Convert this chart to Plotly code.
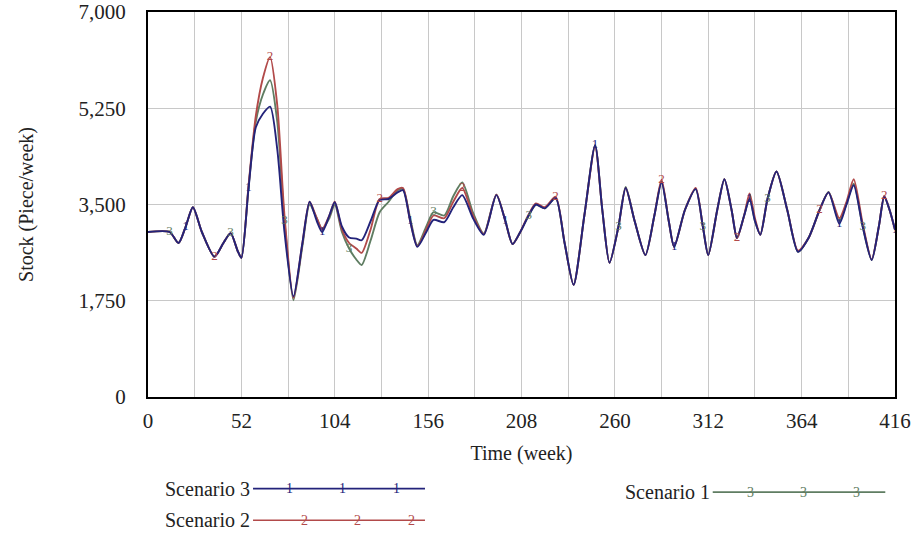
import plotly.graph_objects as go

weeks = [0, 12, 17, 21, 25, 30, 37, 42, 46, 50,
         52, 56, 60, 64, 68, 72, 76, 81, 86, 90,
         94, 97, 101, 104, 108, 112, 116, 119, 124, 129,
         134, 139, 142, 146, 150, 155, 159, 165, 170, 175,
         181, 187, 194, 199, 203, 207, 212, 216, 221, 227,
         232, 237, 243, 249, 253, 257, 262, 266, 271, 277,
         282, 286, 290, 293, 299, 305, 309, 312, 317, 321,
         325, 328, 332, 335, 338, 341, 345, 350, 356, 362,
         368, 374, 379, 385, 389, 393, 398, 403, 407, 410,
         413, 416]

scenario3 = [3000, 3000, 2800, 3100, 3450, 3000, 2550, 2800, 2980, 2650,
             2530, 3800, 4900, 5150, 5280, 4500, 3000, 1830, 2800, 3550,
             3200, 3000, 3300, 3540, 3100, 2900, 2880, 2850, 3200, 3580,
             3600, 3720, 3760, 3200, 2730, 3000, 3220, 3180, 3450, 3670,
             3250, 2950, 3670, 3200, 2780, 2980, 3300, 3500, 3430, 3620,
             2800, 2040, 3300, 4580, 3400, 2440, 3100, 3800, 3200, 2580,
             3300, 3900, 3200, 2730, 3400, 3780, 3100, 2580, 3400, 3960,
             3400, 2890, 3300, 3600, 3200, 2950, 3600, 4100, 3400, 2640,
             2900, 3400, 3720, 3150, 3500, 3850, 3100, 2490, 3100, 3640,
             3400, 3040]

scenario2 = [3000, 3000, 2800, 3100, 3450, 3000, 2550, 2800, 2980, 2650,
             2530, 3850, 5100, 5800, 6180, 5300, 3300, 1800, 2800, 3550,
             3250, 3050, 3300, 3550, 3050, 2800, 2700, 2620, 3050, 3600,
             3620, 3780, 3800, 3200, 2740, 3050, 3300, 3250, 3550, 3800,
             3300, 2960, 3680, 3200, 2780, 2980, 3320, 3520, 3450, 3640,
             2800, 2040, 3300, 4560, 3400, 2440, 3100, 3800, 3200, 2580,
             3300, 3950, 3200, 2730, 3400, 3800, 3100, 2580, 3400, 3960,
             3400, 2890, 3300, 3700, 3250, 2950, 3600, 4100, 3400, 2660,
             2900, 3400, 3720, 3250, 3550, 3960, 3150, 2500, 3100, 3660,
             3400, 3040]

scenario1 = [3000, 3000, 2800, 3100, 3450, 3000, 2550, 2800, 2980, 2650,
             2530, 3820, 5000, 5500, 5760, 5000, 3200, 1760, 2750, 3500,
             3250, 3050, 3250, 3500, 3000, 2700, 2500, 2400, 2850, 3360,
             3550, 3760, 3780, 3250, 2760, 3100, 3360, 3300, 3650, 3900,
             3350, 2970, 3680, 3200, 2780, 2980, 3300, 3500, 3430, 3620,
             2800, 2040, 3300, 4580, 3400, 2440, 3100, 3820, 3200, 2580,
             3300, 3920, 3200, 2730, 3400, 3780, 3100, 2580, 3400, 3960,
             3400, 2890, 3300, 3620, 3200, 2950, 3600, 4100, 3400, 2640,
             2900, 3400, 3730, 3200, 3520, 3880, 3100, 2490, 3100, 3640,
             3400, 3040]

series = [
    ("Scenario 1", scenario1, "3", "#5f7d62", [1, 8, 16, 25, 36, 46, 56, 66, 76, 86]),
    ("Scenario 2", scenario2, "2", "#b24a4a", [6, 14, 29, 39, 49, 61, 71, 81, 89]),
    ("Scenario 3", scenario3, "1", "#23237a", [3, 11, 21, 33, 43, 53, 63, 73, 83, 91]),
]

FONT = "Liberation Serif, Times New Roman, serif"

fig = go.Figure()
for name, vals, digit, color, idx in series:
    fig.add_trace(go.Scatter(
        x=weeks, y=vals, name=name, mode="lines",
        line=dict(color=color, width=1.9, shape="spline", smoothing=0.7),
        showlegend=False, hoverinfo="skip"))
for name, vals, digit, color, idx in series:
    fig.add_trace(go.Scatter(
        x=[weeks[i] for i in idx], y=[vals[i] for i in idx],
        mode="text", text=[digit] * len(idx),
        textfont=dict(family=FONT, size=13, color=color),
        showlegend=False, hoverinfo="skip"))

# custom legend (below the plot, label left of a line carrying digits)
legend_items = [
    ("Scenario 3", "1", "#23237a", 0.139, -0.238, [0.190, 0.261, 0.333], 0.1406, 0.3708),
    ("Scenario 2", "2", "#b24a4a", 0.139, -0.320, [0.210, 0.281, 0.353], 0.1406, 0.3708),
    ("Scenario 1", "3", "#5f7d62", 0.755, -0.247, [0.806, 0.877, 0.948], 0.756, 0.987),
]
for label, digit, color, lx, ly, dxs, x0, x1 in legend_items:
    fig.add_annotation(x=lx, y=ly, xref="paper", yref="paper", text=label,
                       showarrow=False, xanchor="right", yanchor="middle",
                       font=dict(family=FONT, size=20, color="#222"))
    fig.add_shape(type="line", xref="paper", yref="paper", x0=x0, x1=x1,
                  y0=ly, y1=ly, line=dict(color=color, width=1.6))
    for dx in dxs:
        fig.add_annotation(x=dx, y=ly, xref="paper", yref="paper", text=digit,
                           showarrow=False, xanchor="center", yanchor="middle",
                           font=dict(family=FONT, size=14, color=color))

fig.update_layout(
    width=918, height=539,
    margin=dict(l=148, r=23, t=12, b=142, autoexpand=False),
    paper_bgcolor="white", plot_bgcolor="white",
    font=dict(family=FONT, size=20, color="#222"),
)
fig.update_xaxes(
    range=[0, 416], tickmode="linear", tick0=0, dtick=52,
    showgrid=True, gridcolor="#c8c8c8", gridwidth=1,
    minor=dict(tickmode="linear", tick0=0, dtick=26, showgrid=True,
               gridcolor="#c8c8c8", gridwidth=1),
    showline=True, linecolor="black", linewidth=2, mirror=True,
    ticks="", zeroline=False, automargin=False, ticklabelstandoff=4,
    tickfont=dict(family=FONT, size=21, color="#222"),
    title=dict(text="Time (week)", font=dict(family=FONT, size=20, color="#222"), standoff=14),
)
fig.update_yaxes(
    range=[0, 7000], tickmode="linear", tick0=0, dtick=1750, tickformat=",",
    showgrid=True, gridcolor="#c8c8c8", gridwidth=1,
    showline=True, linecolor="black", linewidth=2, mirror=True,
    ticks="", zeroline=False, ticklabelstandoff=16, automargin=False,
    tickfont=dict(family=FONT, size=21, color="#222"),
    title=dict(text="Stock (Piece/week)", font=dict(family=FONT, size=20, color="#222"), standoff=40),
)

fig.write_html("out.html")
